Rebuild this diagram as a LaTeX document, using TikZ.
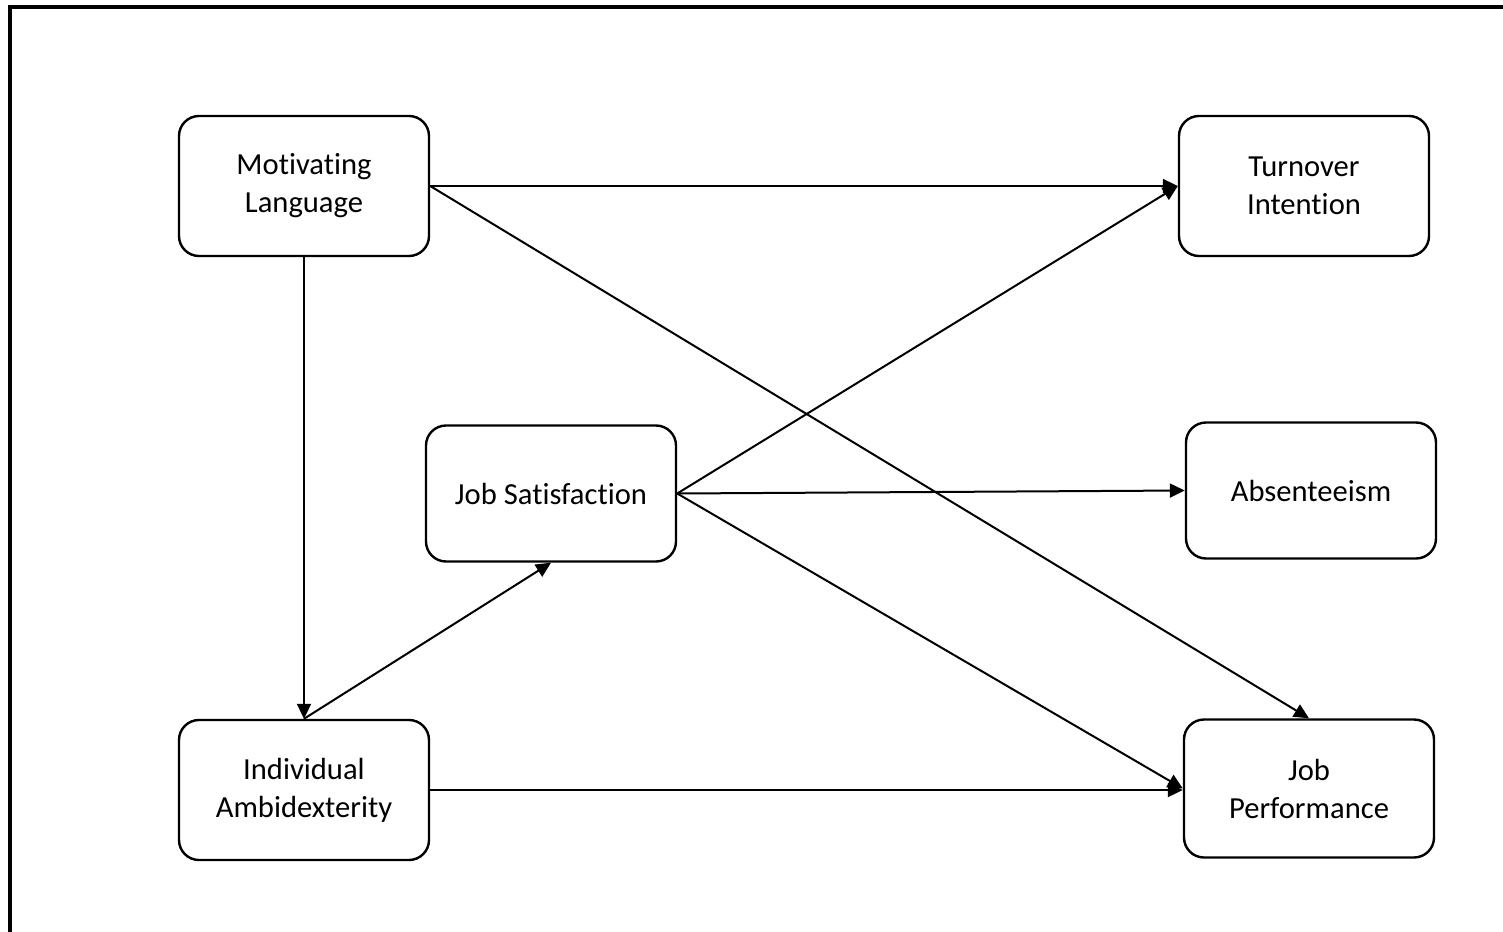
\documentclass[tikz,border=0pt]{standalone}
\usepackage{fontspec}
\setmainfont[Ligatures=NoCommon]{Carlito}
\usetikzlibrary{arrows.meta}
\begin{document}
\begin{tikzpicture}[x=0.5pt,y=-0.5pt,
  box/.style={draw,line width=1.2pt,rounded corners=10pt,minimum width=125pt,minimum height=70pt,align=center,font=\fontsize{15.3}{19}\selectfont,inner sep=2pt},
  conn/.style={line width=1pt,-{Triangle[length=7.5pt,width=7pt]}}]
\useasboundingbox (0,0) rectangle (1503,931);
\draw[line width=2.4pt] (10,935) -- (10,7) -- (1510,7);
\node[box] (ml) at (304,186) {Motivating\\Language};
\node[box] (ti) at (1304,186) {Turnover\\Intention};
\node[box,minimum height=68pt] (js) at (551,493.5) {Job Satisfaction};
\node[box,minimum height=68pt] (ab) at (1311,490.5) {Absenteeism};
\node[box] (ia) at (304,790) {Individual\\Ambidexterity};
\node[box,minimum height=69pt] (jp) at (1309,788.5) {Job\\Performance};
\draw[conn] (ml.east) -- (ti.west);
\draw[conn] (ml.east) -- (jp.north);
\draw[conn] (ml.south) -- (ia.north);
\draw[conn] (js.east) -- (ti.west);
\draw[conn] (js.east) -- (ab.west);
\draw[conn] (js.east) -- (jp.west);
\draw[conn] (ia.north) -- (js.south);
\draw[conn] (ia.east) -- (ia.east -| jp.west);
\end{tikzpicture}
\end{document}
